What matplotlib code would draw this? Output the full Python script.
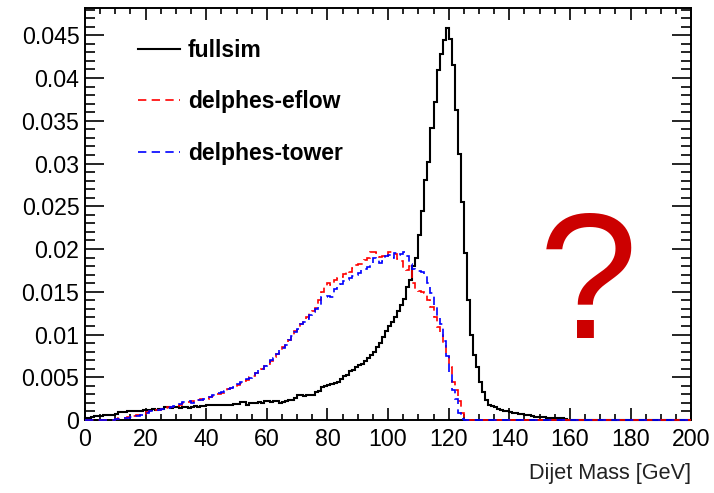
import numpy as np
import matplotlib
matplotlib.use("Agg")
import matplotlib.pyplot as plt
from matplotlib.ticker import MultipleLocator, FuncFormatter

plt.rcParams["font.family"] = ["Liberation Sans", "DejaVu Sans"]

# 1 GeV bins from 0 to 200
edges = np.arange(0, 201, 1)

fullsim = [
    0.0002, 0.0002, 0.0003, 0.0005, 0.0005, 0.0005, 0.0006, 0.0006, 0.0006, 0.0006,
    0.0007, 0.0009, 0.0009, 0.0009, 0.0010, 0.0011, 0.0011, 0.0011, 0.0011, 0.0012,
    0.0012, 0.0012, 0.0013, 0.0012, 0.0013, 0.0013, 0.0015, 0.0015, 0.0014, 0.0015,
    0.0015, 0.0014, 0.0015, 0.0015, 0.0014, 0.0015, 0.0016, 0.0015, 0.0016, 0.0016,
    0.0018, 0.0017, 0.0017, 0.0017, 0.0017, 0.0018, 0.0017, 0.0018, 0.0018, 0.0019,
    0.0019, 0.0021, 0.0021, 0.0018, 0.0020, 0.0020, 0.0020, 0.0021, 0.0020, 0.0022,
    0.0022, 0.0021, 0.0022, 0.0022, 0.0020, 0.0021, 0.0022, 0.0023, 0.0024, 0.0026,
    0.0029, 0.0029, 0.0028, 0.0029, 0.0029, 0.0029, 0.0033, 0.0034, 0.0039, 0.0040,
    0.0041, 0.0042, 0.0043, 0.0045, 0.0048, 0.0051, 0.0053, 0.0057, 0.0059, 0.0062,
    0.0064, 0.0066, 0.0069, 0.0072, 0.0076, 0.0079, 0.0085, 0.0090, 0.0097, 0.0104,
    0.0110, 0.0115, 0.0121, 0.0128, 0.0134, 0.0142, 0.0156, 0.0164, 0.0180, 0.0190,
    0.0216, 0.0244, 0.0281, 0.0302, 0.0342, 0.0372, 0.0409, 0.0428, 0.0444, 0.0459,
    0.0446, 0.0415, 0.0362, 0.0311, 0.0255, 0.0195, 0.0140, 0.0099, 0.0076, 0.0062,
    0.0045, 0.0033, 0.0023, 0.0018, 0.0016, 0.0015, 0.0013, 0.0012, 0.0011, 0.0010,
    0.0009, 0.0008, 0.0008, 0.0007, 0.0007, 0.0006, 0.0006, 0.0005, 0.0004, 0.0004,
    0.0003, 0.0003, 0.0002, 0.0002, 0.0002, 0.0002, 0.0002, 0.0002, 0.0001, 0.0000,
] + [0.0] * 40

eflow = [
    0.0, 0.0, 0.0, 0.0, 0.0, 0.0, 0.0, 0.0, 0.0, 0.0,
    0.0001, 0.0002, 0.0002, 0.0002, 0.0003, 0.0002, 0.0005, 0.0006, 0.0006, 0.0007,
    0.0009, 0.0010, 0.0011, 0.0012, 0.0012, 0.0013, 0.0014, 0.0015, 0.0015, 0.0016,
    0.0016, 0.0018, 0.0020, 0.0021, 0.0021, 0.0022, 0.0021, 0.0023, 0.0025, 0.0024,
    0.0025, 0.0027, 0.0028, 0.0030, 0.0031, 0.0032, 0.0034, 0.0036, 0.0037, 0.0039,
    0.0041, 0.0043, 0.0046, 0.0047, 0.0050, 0.0052, 0.0055, 0.0057, 0.0060, 0.0063,
    0.0066, 0.0069, 0.0074, 0.0077, 0.0081, 0.0085, 0.0090, 0.0094, 0.0099, 0.0104,
    0.0108, 0.0112, 0.0117, 0.0121, 0.0125, 0.0127, 0.0131, 0.0140, 0.0150, 0.0155,
    0.0160, 0.0158, 0.0164, 0.0166, 0.0167, 0.0171, 0.0174, 0.0173, 0.0178, 0.0181,
    0.0183, 0.0182, 0.0187, 0.0189, 0.0196, 0.0196, 0.0195, 0.0191, 0.0192, 0.0190,
    0.0196, 0.0197, 0.0194, 0.0188, 0.0186, 0.0177, 0.0175, 0.0180, 0.0160, 0.0152,
    0.0151, 0.0150, 0.0148, 0.0140, 0.0132, 0.0121, 0.0109, 0.0102, 0.0090, 0.0077,
    0.0062, 0.0045, 0.0035, 0.0022, 0.0008, 0.0002,
] + [0.0] * 74

tower = [
    0.0, 0.0, 0.0, 0.0, 0.0, 0.0, 0.0, 0.0, 0.0, 0.0,
    0.0001, 0.0001, 0.0002, 0.0002, 0.0002, 0.0003, 0.0004, 0.0005, 0.0006, 0.0007,
    0.0008, 0.0010, 0.0011, 0.0011, 0.0012, 0.0013, 0.0014, 0.0014, 0.0015, 0.0016,
    0.0016, 0.0019, 0.0021, 0.0021, 0.0022, 0.0020, 0.0022, 0.0024, 0.0024, 0.0025,
    0.0026, 0.0027, 0.0029, 0.0030, 0.0032, 0.0033, 0.0034, 0.0036, 0.0038, 0.0039,
    0.0042, 0.0044, 0.0045, 0.0048, 0.0049, 0.0053, 0.0055, 0.0058, 0.0060, 0.0063,
    0.0066, 0.0070, 0.0073, 0.0077, 0.0082, 0.0084, 0.0088, 0.0094, 0.0098, 0.0103,
    0.0106, 0.0112, 0.0115, 0.0118, 0.0123, 0.0126, 0.0130, 0.0135, 0.0144, 0.0144,
    0.0145, 0.0144, 0.0153, 0.0155, 0.0159, 0.0163, 0.0164, 0.0166, 0.0168, 0.0170,
    0.0172, 0.0175, 0.0177, 0.0179, 0.0182, 0.0190, 0.0187, 0.0184, 0.0186, 0.0192,
    0.0193, 0.0190, 0.0195, 0.0193, 0.0194, 0.0197, 0.0192, 0.0183, 0.0177, 0.0175,
    0.0174, 0.0173, 0.0170, 0.0160, 0.0148, 0.0135, 0.0121, 0.0112, 0.0093, 0.0075,
    0.0055, 0.0035, 0.0025, 0.0008, 0.0001,
] + [0.0] * 75

fig = plt.figure(figsize=(7.14, 4.93), dpi=100)
ax = fig.add_axes([0.119, 0.148, 0.849, 0.836])

dash = (0, (5.0, 3.2))
ax.stairs(fullsim, edges, color="black", lw=1.5, label="fullsim", zorder=3, clip_on=False)
ax.stairs(eflow, edges, color="red", lw=1.2, linestyle=dash, label="delphes-eflow",
          zorder=3, clip_on=False)
ax.stairs(tower, edges, color="blue", lw=1.2, linestyle=dash, label="delphes-tower",
          zorder=3, clip_on=False)

ax.set_xlim(0, 200)
ax.set_ylim(0, 0.0482)

ax.xaxis.set_major_locator(MultipleLocator(20))
ax.xaxis.set_minor_locator(MultipleLocator(5))
ax.yaxis.set_major_locator(MultipleLocator(0.005))
ax.yaxis.set_minor_locator(MultipleLocator(0.001))
ax.yaxis.set_major_formatter(FuncFormatter(lambda v, p: "%g" % round(v, 4)))

ax.tick_params(axis="both", which="both", direction="in", top=True, right=True,
               width=1.2, labelsize=16.7, colors="black")
ax.tick_params(axis="x", which="major", length=8.5, pad=6)
ax.tick_params(axis="x", which="minor", length=4.5)
ax.tick_params(axis="y", which="major", length=13.5, pad=4)
ax.tick_params(axis="y", which="minor", length=7)
for s in ax.spines.values():
    s.set_linewidth(1.4)

ax.set_xlabel("Dijet Mass [GeV]", fontsize=15.6, color="#222222")
ax.xaxis.set_label_coords(1.0, -0.105)
ax.xaxis.label.set_horizontalalignment("right")

leg = ax.legend(loc="upper left", bbox_to_anchor=(0.087, 0.925), frameon=False,
                borderpad=0, borderaxespad=0, handlelength=1.85, handletextpad=0.35,
                labelspacing=1.25, prop={"size": 16.5, "weight": "bold"})

ax.text(0.83, 0.199, "?", transform=ax.transAxes, ha="center", va="baseline",
        fontsize=128, color="#cc0000")

fig.savefig("out.png", dpi=100)
